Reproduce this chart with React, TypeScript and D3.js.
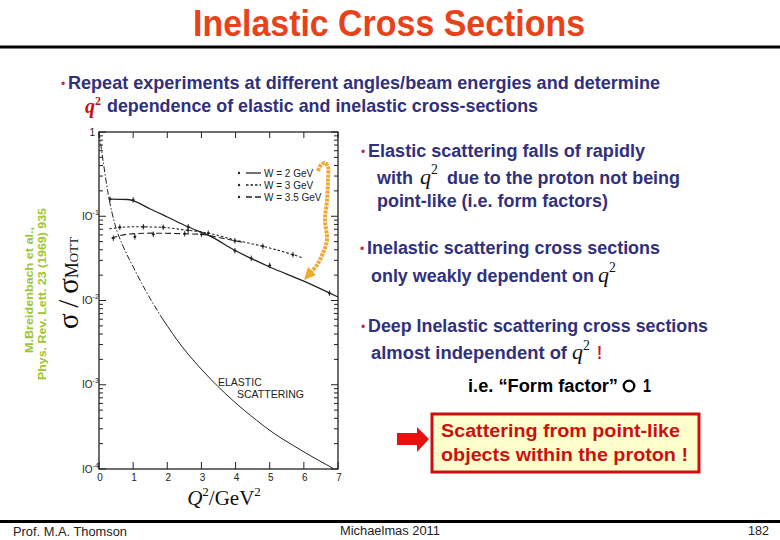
import React from "react";
import * as d3 from "d3";

// ---------- data ----------
const xTickValues = [0, 1, 2, 3, 4, 5, 6, 7];
const yDecadeValues = [1, 1e-1, 1e-2, 1e-3, 1e-4];
const yDecadeExponents = ["", "-1", "-2", "-3", "-4"];

const elasticQ2 = [0.0, 0.13, 0.27, 0.47, 0.71, 1.0, 1.39, 1.88, 2.42, 3.05, 3.93, 4.61, 5.1, 5.68, 6.27, 6.85];
const elasticVal = [1.0, 0.427, 0.182, 0.0794, 0.0437, 0.0251, 0.0126, 0.00589, 0.00288, 0.00145, 0.000646, 0.00038, 0.000269, 0.000191, 0.000138, 0.000102];

const w2LineQ2 = [0.32, 0.85, 1.5, 2.0, 2.6, 3.3, 3.95, 5.0, 6.0, 7.0];
const w2LineVal = [0.16, 0.158, 0.122, 0.098, 0.075, 0.057, 0.04, 0.025, 0.017, 0.011];
const w2PtQ2 = [0.32, 1.0, 2.61, 3.98, 4.46, 5.0, 6.75];
const w2PtVal = [0.16, 0.156, 0.075, 0.039, 0.0316, 0.026, 0.0122];

const w3LineQ2 = [0.3, 1.0, 1.8, 2.5, 3.2, 4.0, 4.8, 5.68, 5.97];
const w3LineVal = [0.071, 0.075, 0.074, 0.069, 0.063, 0.052, 0.044, 0.035, 0.032];
const w3PtQ2 = [0.61, 1.3, 1.88, 2.61, 3.2, 3.98, 4.8, 5.68];
const w3PtVal = [0.074, 0.075, 0.074, 0.068, 0.063, 0.051, 0.044, 0.035];

const w35LineQ2 = [0.37, 0.8, 1.5, 2.5, 3.0, 3.5, 4.2];
const w35LineVal = [0.055, 0.061, 0.063, 0.062, 0.061, 0.056, 0.049];
const w35PtQ2 = [0.42, 1.05, 1.59, 2.51, 3.0];
const w35PtVal = [0.055, 0.057, 0.061, 0.062, 0.061];

const legendLabels = ["W = 2  GeV", "W = 3  GeV", "W = 3.5 GeV"];
const legendDash = ["none", "2.5,2", "6,3"];

// ---------- styles ----------
const NAVY = "#30307c";
const TITLE = "#e8421a";
const RED = "#cc1010";
const INK = "#222";
const SANS = "'Liberation Sans', Arial, Helvetica, sans-serif";
const NARROW = "'Liberation Sans Narrow', 'Arial Narrow', 'Liberation Sans', sans-serif";
const SERIF = "'Liberation Serif', 'Times New Roman', 'DejaVu Serif', serif";

const x = d3.scaleLinear().domain([0, 7]).range([99, 338]);
const y = d3.scaleLog().domain([1e-4, 1]).range([469, 132]);

const line = d3
  .line<[number, number]>()
  .x((d) => x(d[0]))
  .y((d) => y(d[1]))
  .curve(d3.curveMonotoneX);

const zip = (a: number[], b: number[]) => a.map((v, i) => [v, b[i]] as [number, number]);

function Points({ q, v }: { q: number[]; v: number[] }) {
  return (
    <g stroke={INK} fill={INK}>
      {q.map((qq, i) => (
        <g key={i}>
          <line x1={x(qq)} x2={x(qq)} y1={y(v[i] * 1.08)} y2={y(v[i] / 1.08)} strokeWidth={0.9} />
          <line x1={x(qq) - 1.5} x2={x(qq) + 1.5} y1={y(v[i])} y2={y(v[i])} strokeWidth={0.9} />
          <circle cx={x(qq)} cy={y(v[i])} r={1.2} stroke="none" />
        </g>
      ))}
    </g>
  );
}

function Q2({ x0, yb, size = 22, color = "#111" }: { x0: number; yb: number; size?: number; color?: string }) {
  return (
    <text x={x0} y={yb} fontFamily={SERIF} fontSize={size} fill={color}>
      <tspan fontStyle="italic">q</tspan>
      <tspan fontSize={size * 0.62} dy={-size * 0.42}>2</tspan>
    </text>
  );
}

function Line({ x0, yb, len, children, fill = NAVY, size = 17.5, family = SANS }: any) {
  return (
    <text x={x0} y={yb} fontFamily={family} fontWeight="bold" fontSize={size} fill={fill} textLength={len} lengthAdjust="spacingAndGlyphs">
      {children}
    </text>
  );
}

function Bullet({ x0, yb }: { x0: number; yb: number }) {
  return (
    <text x={x0} y={yb - 1} fontFamily={SANS} fontSize={12} fill="#c8283c">•</text>
  );
}

export default function App() {
  const minorTicks: number[] = [];
  for (let d = -4; d < 0; d++) for (let m = 2; m <= 9; m++) minorTicks.push(m * Math.pow(10, d));

  const elastic = zip(elasticQ2, elasticVal);
  const elasticTop = elastic.slice(0, 8);
  const elasticBottom = elastic.slice(7);

  // orange annotation arrow path
  const arrowPts: [number, number][] = [
    [318, 171], [321, 165], [325, 163], [328, 167], [328, 180], [327, 200], [325, 220], [327, 240], [323, 253], [317, 265], [311, 272],
  ];
  const arrowPath = d3.line<[number, number]>().curve(d3.curveCatmullRom)(arrowPts) || "";

  return (
    <svg width={780} height={540} style={{ position: "absolute", left: 0, top: 0, background: "#fff" }}>
      <rect x={0} y={0} width={780} height={540} fill="#fff" />

      {/* Title */}
      <text x={193} y={36} fontFamily={NARROW} fontWeight="bold" fontSize={36} fill={TITLE} textLength={392} lengthAdjust="spacingAndGlyphs">
        Inelastic Cross Sections
      </text>
      <rect x={0} y={45.5} width={780} height={3} fill="#000" />

      {/* Top bullet */}
      <Bullet x0={61} yb={89} />
      <Line x0={68} yb={89} len={592} size={19} family={NARROW}>Repeat experiments at different angles/beam energies and determine</Line>
      <text x={85} y={113} fontFamily={SERIF} fontWeight="bold" fontSize={20} fill={RED}>
        <tspan fontStyle="italic">q</tspan>
        <tspan fontSize={12} dy={-8}>2</tspan>
      </text>
      <Line x0={107} yb={112} len={431} size={19} family={NARROW}>dependence of elastic and inelastic cross-sections</Line>

      {/* Plot frame */}
      <g stroke={INK} strokeWidth={1.3} fill="none">
        <rect x={x(0)} y={y(1)} width={x(7) - x(0)} height={y(1e-4) - y(1)} />
      </g>
      <g stroke={INK} strokeWidth={1}>
        {yDecadeValues.map((v, i) => (
          <g key={"maj" + i}>
            <line x1={x(0)} x2={x(0) + 7} y1={y(v)} y2={y(v)} />
            <line x1={x(7)} x2={x(7) - 7} y1={y(v)} y2={y(v)} />
          </g>
        ))}
        {minorTicks.map((v, i) => (
          <g key={"min" + i}>
            <line x1={x(0)} x2={x(0) + 4} y1={y(v)} y2={y(v)} />
            <line x1={x(7)} x2={x(7) - 4} y1={y(v)} y2={y(v)} />
          </g>
        ))}
        {xTickValues.map((t) => (
          <g key={"xt" + t}>
            <line x1={x(t)} x2={x(t)} y1={y(1e-4)} y2={y(1e-4) - 7} />
            <line x1={x(t)} x2={x(t)} y1={y(1)} y2={y(1) + 6} />
          </g>
        ))}
      </g>

      {/* Tick labels */}
      <g fontFamily={SANS} fontSize={10} fill={INK}>
        {yDecadeValues.map((v, i) =>
          i === 0 ? (
            <text key={i} x={95} y={y(v) + 4} textAnchor="end">1</text>
          ) : (
            <text key={i} x={82} y={y(v) + 3.5}>
              IO<tspan fontSize={7} dy={-5}>{yDecadeExponents[i]}</tspan>
            </text>
          )
        )}
        {xTickValues.map((t) => (
          <text key={t} x={x(t) + 1} y={481} textAnchor="middle">{t}</text>
        ))}
      </g>

      {/* Axis titles */}
      <text x={224} y={505} fontFamily={SERIF} fontSize={21} fill="#111" textAnchor="middle">
        <tspan fontStyle="italic">Q</tspan>
        <tspan fontSize={13} dy={-9}>2</tspan>
        <tspan dy={9}>/GeV</tspan>
        <tspan fontSize={13} dy={-9}>2</tspan>
      </text>
      <text transform="translate(78,283) rotate(-90)" fontFamily={SERIF} fontSize={29} fill="#111" textAnchor="middle">
        {"σ\u2009/\u2009σ"}<tspan fontSize={18} style={{ fontVariant: "small-caps" }}>Mott</tspan>
      </text>

      {/* Citation */}
      <g fontFamily={SANS} fontWeight="bold" fontSize={11.5} fill="#9dc52d" textAnchor="middle">
        <text transform="translate(33,290) rotate(-90)" textLength={126} lengthAdjust="spacingAndGlyphs">M.Breidenbach et al.,</text>
        <text transform="translate(46,294) rotate(-90)" textLength={172} lengthAdjust="spacingAndGlyphs">Phys. Rev. Lett. 23 (1969) 935</text>
      </g>

      {/* Curves */}
      <g fill="none" stroke={INK}>
        <path d={line(elasticTop) || ""} strokeWidth={1} strokeDasharray="6,2,1.5,2" />
        <path d={line(elasticBottom) || ""} strokeWidth={1} />
        <path d={line(zip(w2LineQ2, w2LineVal)) || ""} strokeWidth={1.3} />
        <path d={line(zip(w3LineQ2, w3LineVal)) || ""} strokeWidth={1.1} strokeDasharray="2.5,2" />
        <path d={line(zip(w35LineQ2, w35LineVal)) || ""} strokeWidth={1.1} strokeDasharray="6,3" />
      </g>
      <Points q={w2PtQ2} v={w2PtVal} />
      <Points q={w3PtQ2} v={w3PtVal} />
      <Points q={w35PtQ2} v={w35PtVal} />

      {/* Legend */}
      <g fontFamily={SANS} fontSize={10} fill={INK}>
        {legendLabels.map((lab, i) => (
          <g key={i}>
            <circle cx={239} cy={173 + i * 12} r={1.2} />
            <line x1={246} x2={261} y1={173 + i * 12} y2={173 + i * 12} stroke={INK} strokeWidth={1.3} strokeDasharray={legendDash[i]} />
            <text x={264} y={176.5 + i * 12}>{lab}</text>
          </g>
        ))}
      </g>
      <g fontFamily={SANS} fontSize={10.5} fill={INK}>
        <text x={218} y={386}>ELASTIC</text>
        <text x={237} y={398}>SCATTERING</text>
      </g>

      {/* Orange annotation arrow */}
      <path d={arrowPath} fill="none" stroke="#f0a830" strokeWidth={4} strokeDasharray="3,1" strokeLinecap="butt" />
      <polygon points="304,280 316,275 308,267" fill="#f0a830" />

      {/* Right-hand text */}
      <Bullet x0={361} yb={157} />
      <Line x0={368} yb={157} len={277}>Elastic scattering falls of rapidly</Line>
      <Line x0={377} yb={183.5} len={36}>with</Line>
      <Q2 x0={420} yb={183.5} />
      <Line x0={447} yb={183.5} len={233}>due to the proton not being</Line>
      <Line x0={377} yb={206.5} len={231}>point-like (i.e. form factors)</Line>

      <Bullet x0={360} yb={254} />
      <Line x0={367} yb={254} len={293}>Inelastic scattering cross sections</Line>
      <Line x0={371} yb={281.5} len={223}>only weakly dependent on</Line>
      <Q2 x0={598} yb={281.5} />

      <Bullet x0={361} yb={331.5} />
      <Line x0={368} yb={331.5} len={340}>Deep Inelastic scattering cross sections</Line>
      <Line x0={371} yb={359} len={196}>almost  independent of</Line>
      <Q2 x0={572} yb={359} />
      <Line x0={597} yb={359} len={5} fill={RED}>!</Line>

      <Line x0={468} yb={391.5} len={150} fill="#000">i.e. “Form factor”</Line>
      <circle cx={629} cy={386} r={5.3} fill="none" stroke="#000" strokeWidth={2.3} />
      <Line x0={643} yb={391.5} len={8} fill="#000">1</Line>

      {/* Conclusion box */}
      <polygon points="397,433 417,433 417,427 429,439 417,452 417,445 397,445" fill="#e81010" />
      <rect x={432} y={414} width={267} height={58} fill="#ffffcc" stroke={RED} strokeWidth={3} />
      <Line x0={441} yb={436.7} len={239} fill={RED}>Scattering from point-like</Line>
      <Line x0={441} yb={460.7} len={247} fill={RED}>objects within the proton !</Line>

      {/* Footer */}
      <rect x={0} y={520} width={780} height={3} fill="#000" />
      <g fontFamily={SANS} fontSize={12.5} fill="#222">
        <text x={13} y={536} textLength={114} lengthAdjust="spacingAndGlyphs">Prof. M.A. Thomson</text>
        <text x={340} y={535} textLength={100} lengthAdjust="spacingAndGlyphs">Michaelmas 2011</text>
        <text x={748} y={535}>182</text>
      </g>
    </svg>
  );
}
